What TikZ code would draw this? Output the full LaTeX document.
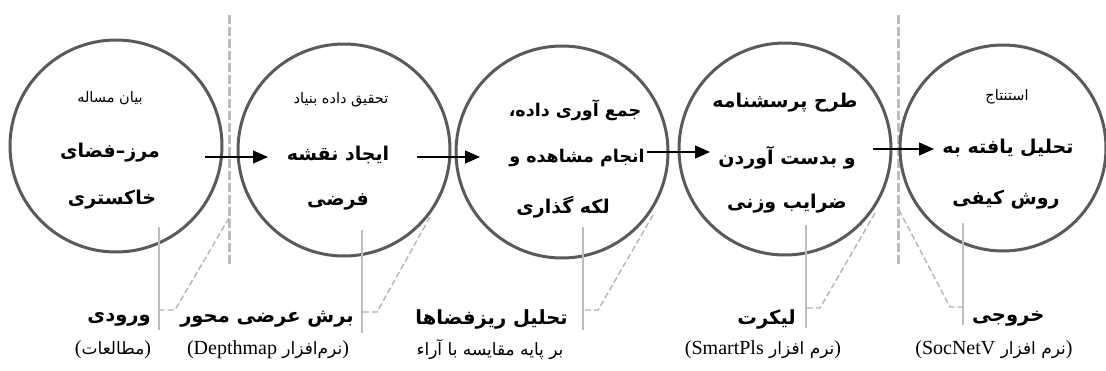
\documentclass[tikz,border=0pt]{standalone}
\usepackage{fontspec}
\usetikzlibrary{arrows.meta}
\TeXXeTstate=1
\newfontfamily\fa[Script=Arabic]{DejaVu Sans}
\newfontfamily\lat{Liberation Serif}
\newcommand{\myR}[1]{\beginR #1\endR}
\newcommand{\lp}{{\lat\fontsize{20}{22}\selectfont (}}
\newcommand{\rp}{{\lat\fontsize{20}{22}\selectfont )}}
\newcommand{\lw}[1]{{\lat\fontsize{20}{22}\selectfont #1}}
\definecolor{circgray}{HTML}{5A5A5A}
\definecolor{lightg}{HTML}{BDBDBD}
\definecolor{dashg}{HTML}{B4B4B4}
\tikzset{
  circ/.style={circle, draw=circgray, line width=3pt, minimum size=#1, inner sep=0pt},
  arr/.style={draw=black, line width=1.2pt, -{Triangle[length=15pt,width=13pt]}},
  sep/.style={draw=lightg, line width=3pt, dash pattern=on 9pt off 3pt},
  lead/.style={draw=lightg, line width=1.8pt},
  dlead/.style={draw=dashg, line width=1.4pt, dash pattern=on 6pt off 3pt},
  small/.style={font=\fa\fontsize{14.5}{16}\selectfont, inner sep=0pt},
  big/.style={font=\fa\bfseries\fontsize{19}{22}\selectfont, inner sep=0pt},
  bigc/.style={font=\fa\bfseries\fontsize{17.5}{20}\selectfont, inner sep=0pt},
  lab/.style={font=\fa\bfseries\fontsize{19.5}{22}\selectfont, inner sep=0pt},
  sub/.style={font=\fa\fontsize{17}{19}\selectfont, inner sep=0pt},
}
\begin{document}
\begin{tikzpicture}[x=1pt,y=-1pt]
\useasboundingbox (0,0) rectangle (1106,370);
% separators
\coordinate (s1t) at (229,15); \coordinate (s1b) at (229,267);
\coordinate (s2t) at (898,15); \coordinate (s2b) at (898,267);
\draw[sep] (s1t) -- (s1b);
\draw[sep] (s2t) -- (s2b);
% circles
\node[circ=212pt] (c1) at (116,146) {};
\node[circ=212pt] (c2) at (344,150) {};
\node[circ=212pt] (c3) at (562,152) {};
\node[circ=212pt] (c4) at (785,149) {};
\node[circ=206pt] (c5) at (1003,148) {};
% texts circle 1
\node[small] (t1a) at (110,98) {\myR{بیان مساله}};
\node[big] (t1b) at (110,153) {\myR{مرز–فضای}};
\node[big] (t1c) at (112,200) {\myR{خاکستری}};
% circle 2
\node[small] (t2a) at (341,100) {\myR{تحقیق داده بنیاد}};
\node[big] (t2b) at (338,155) {\myR{ایجاد نقشه}};
\node[big] (t2c) at (338,202) {\myR{فرضی}};
% circle 3
\node[bigc] (t3a) at (575,110) {\myR{جمع آوری داده،}};
\node[bigc] (t3b) at (577,158) {\myR{انجام مشاهده و}};
\node[big] (t3c) at (563,207) {\myR{لکه گذاری}};
% circle 4
\node[big] (t4a) at (785,103) {\myR{طرح پرسشنامه}};
\node[big] (t4b) at (787,158) {\myR{و بدست آوردن}};
\node[big] (t4c) at (787,204) {\myR{ضرایب وزنی}};
% circle 5
\node[small] (t5a) at (1007,97) {\myR{استنتاج}};
\node[big] (t5b) at (1008,148) {\myR{تحلیل یافته به}};
\node[big] (t5c) at (1006,200) {\myR{روش کیفی}};
% arrows
\coordinate (a1s) at (205,157); \coordinate (a1e) at (268,157);
\coordinate (a2s) at (417,157); \coordinate (a2e) at (480,157);
\coordinate (a3s) at (647,152); \coordinate (a3e) at (710,152);
\coordinate (a4s) at (873,149); \coordinate (a4e) at (934,149);
\draw[arr] (a1s) -- (a1e);
\draw[arr] (a2s) -- (a2e);
\draw[arr] (a3s) -- (a3e);
\draw[arr] (a4s) -- (a4e);
% leaders
\coordinate (l1t) at (159,227); \coordinate (l1b) at (159,330);
\coordinate (d1a) at (229,218); \coordinate (d1b) at (175,310); \coordinate (d1c) at (160,310);
\coordinate (l2t) at (362,230); \coordinate (l2b) at (362,333);
\coordinate (d2a) at (430,217); \coordinate (d2b) at (377,312); \coordinate (d2c) at (363,312);
\coordinate (l3t) at (583,227); \coordinate (l3b) at (583,330);
\coordinate (d3a) at (653,215); \coordinate (d3b) at (598,310); \coordinate (d3c) at (584,310);
\coordinate (l4t) at (806,225); \coordinate (l4b) at (806,328);
\coordinate (d4a) at (875,213); \coordinate (d4b) at (820,308); \coordinate (d4c) at (807,308);
\coordinate (l5t) at (963,223); \coordinate (l5b) at (963,325);
\coordinate (d5a) at (899,210); \coordinate (d5b) at (950,307); \coordinate (d5c) at (962,307);
\foreach \i in {1,...,5}{
  \draw[lead] (l\i t) -- (l\i b);
  \draw[dlead] (d\i a) -- (d\i b) -- (d\i c);
}
% bottom labels
\node[lab, anchor=east] (b1) at (151,319) {\myR{ورودی}};
\node[sub] (u1) at (113,350) {\lp\myR{مطالعات}\rp};
\node[lab, anchor=east] (b2) at (354,319) {\myR{برش عرضی محور}};
\node[sub] (u2) at (268,350) {\lp\lw{Depthmap} \myR{نرم‌افزار}\rp};
\node[lab, anchor=east] (b3) at (568,319) {\myR{تحلیل ریزفضاها}};
\node[sub] (u3) at (490,350) {\myR{بر پایه مقایسه با آراء}};
\node[lab, anchor=east] (b4) at (796,319) {\myR{لیکرت}};
\node[sub] (u4) at (763,350) {\lp\lw{SmartPls} \myR{نرم افزار}\rp};
\node[lab, anchor=west] (b5) at (972,319) {\myR{خروجی}};
\node[sub] (u5) at (994,350) {\lp\lw{SocNetV} \myR{نرم افزار}\rp};
\end{tikzpicture}
\end{document}
